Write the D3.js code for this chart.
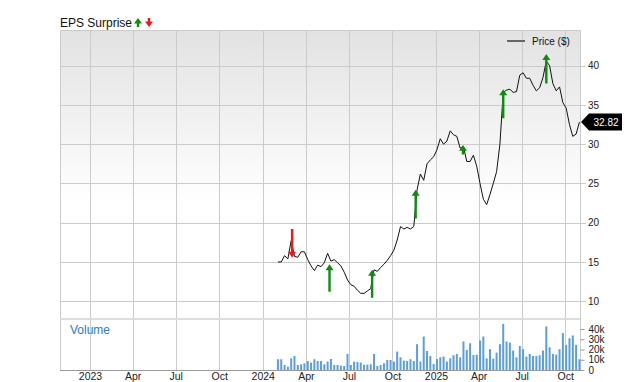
<!DOCTYPE html>
<html>
<head>
<meta charset="utf-8">
<script src="https://cdn.jsdelivr.net/npm/d3@7"></script>
<style>
  body { margin: 0; background: #fff; }
  svg { display: block; font-family: "Liberation Sans", Arial, sans-serif; }
</style>
</head>
<body>
<div id="chart"></div>
<script>
// weekly closes, starting Fri 2 Feb 2024
const firstWeek = "2024-02-02";
const prices = [
  15.0, 15.0, 15.8, 15.4, 17.7, 15.7, 15.6, 16.3, 16.3, 15.3,
  14.5, 13.9, 14.6, 14.4, 14.9, 16.1, 15.1, 15.3, 14.9, 14.5,
  13.7, 12.7, 12.1, 11.9, 11.4, 11.0, 11.0, 11.3, 11.6, 14.0,
  13.8, 14.3, 14.7, 15.2, 15.8, 16.5, 17.8, 19.5, 19.2, 19.4,
  19.2, 19.5, 24.2, 26.2, 25.4, 27.5, 28.0, 28.4, 29.3, 30.7,
  30.0, 30.4, 31.7, 31.2, 31.0, 29.5, 29.7, 27.8, 27.8, 28.6,
  27.2, 25.0, 23.0, 22.3, 23.6, 25.0, 26.5, 30.0, 36.6, 36.9,
  37.0, 36.6, 36.7, 38.8, 39.1, 38.4, 38.4, 37.5, 36.8, 37.2,
  38.5, 40.6, 40.0, 37.7, 36.8, 37.3, 35.3, 34.6, 32.5, 31.0,
  31.3, 32.82
];
const volumes = [
  10500, 10500, 4900, 3300, 11400, 13700, 4900, 5600, 6500, 8800,
  7200, 10500, 8800, 8800, 5600, 8200, 10800, 4900, 4900, 4200,
  3900, 15700, 4900, 8200, 7800, 7200, 5200, 5200, 5600, 15700,
  3900, 4900, 6500, 9800, 9800, 8200, 18000, 12400, 9200, 8800,
  10500, 8800, 25200, 8200, 32700, 18600, 13700, 5900, 10800, 12400,
  13100, 8200, 11400, 14400, 15700, 12400, 27800, 19600, 26100, 14700,
  15000, 28800, 32700, 11400, 20300, 11100, 17000, 25200, 45000, 27800,
  26800, 19000, 12400, 23500, 20300, 13100, 15700, 13700, 13700, 14400,
  19000, 42500, 22200, 15700, 15000, 20300, 36000, 24500, 31000, 33700,
  24500, 10500
];
// EPS surprise arrows: date, direction, price at the arrow tail and at its tip
const epsDates = ["2024-03-03", "2024-05-21", "2024-08-19", "2024-11-19", "2025-02-27", "2025-05-23", "2025-08-22"];
const epsType  = ["down", "up", "up", "up", "up", "up", "up"];
const epsFrom  = [19.2, 11.2, 10.45, 20.55, 28.7, 33.3, 37.75];
const epsTo    = [15.55, 14.7, 14.0, 24.2, 29.9, 37.0, 41.5];

const xTickDates = ["2023-01-01", "2023-04-01", "2023-07-01", "2023-10-01", "2024-01-01", "2024-04-01",
                    "2024-07-01", "2024-10-01", "2025-01-01", "2025-04-01", "2025-07-01", "2025-10-01"];
const xTickLabels = ["2023", "Apr", "Jul", "Oct", "2024", "Apr", "Jul", "Oct", "2025", "Apr", "Jul", "Oct"];
const priceTicks = [10, 15, 20, 25, 30, 35, 40];
const volumeTicks = [0, 10000, 20000, 30000, 40000];
const volumeTickLabels = ["0", "10k", "20k", "30k", "40k"];

const parse = d3.timeParse("%Y-%m-%d");
const start = parse(firstWeek);
const data = prices.map((p, i) => ({ date: d3.timeWeek.offset(start, i), price: p, volume: volumes[i] }));
const eps = epsDates.map((d, i) => ({ date: parse(d), type: epsType[i], from: epsFrom[i], to: epsTo[i] }));

const width = 640, height = 382;
const pLeft = 60, pRight = 580, pTop = 30, priceBottom = 318, volTop = 320, volBottom = 370;

const svg = d3.select("#chart").append("svg")
    .attr("width", width)
    .attr("height", height);

const x = d3.scaleTime()
    .domain([new Date(2022, 9, 29, 14), new Date(2025, 10, 1, 5)])
    .range([pLeft, pRight]);
const y = d3.scaleLinear().domain([7.86, 44.55]).range([priceBottom, pTop]);
const yv = d3.scaleLinear().domain([0, 48800]).range([volBottom, volTop]);

// background gradient of the price pane
const grad = svg.append("defs").append("linearGradient")
    .attr("id", "bg").attr("x1", 0).attr("y1", 0).attr("x2", 0).attr("y2", 1);
grad.append("stop").attr("offset", 0).attr("stop-color", "#e2e2e2");
grad.append("stop").attr("offset", 0.6).attr("stop-color", "#ffffff");

svg.append("rect")
    .attr("x", pLeft).attr("y", pTop)
    .attr("width", pRight - pLeft).attr("height", priceBottom - pTop)
    .attr("fill", "url(#bg)");

// vertical grid
svg.append("g").selectAll("line")
    .data(xTickDates)
    .join("line")
    .attr("x1", d => Math.round(x(parse(d))) + 0.5)
    .attr("x2", d => Math.round(x(parse(d))) + 0.5)
    .attr("y1", pTop).attr("y2", volBottom)
    .attr("stroke", "#cbcbcb");

// horizontal grid of price pane, runs into the right ticks
svg.append("g").selectAll("line")
    .data(priceTicks)
    .join("line")
    .attr("x1", pLeft).attr("x2", pRight + 6)
    .attr("y1", d => Math.round(y(d)) + 0.5)
    .attr("y2", d => Math.round(y(d)) + 0.5)
    .attr("stroke", "#cbcbcb");

// frame
svg.append("path")
    .attr("d", `M${pLeft + 0.5},${volBottom}V${pTop + 0.5}H${pRight + 0.5}V${volBottom}`)
    .attr("fill", "none")
    .attr("stroke", "#cbcbcb");

// pane separator
svg.append("rect")
    .attr("x", pLeft).attr("y", priceBottom)
    .attr("width", pRight - pLeft).attr("height", 2)
    .attr("fill", "#dddddd");

// price axis labels
const yAxis = d3.axisRight(y).tickValues(priceTicks).tickSize(0).tickPadding(8);
svg.append("g")
    .attr("transform", `translate(${pRight},0)`)
    .call(yAxis)
    .call(g => g.select(".domain").remove())
    .call(g => g.selectAll("text").attr("font-size", 10).attr("fill", "#222").attr("font-family", null));

// volume axis
const vAxis = d3.axisRight(yv).tickValues(volumeTicks).tickSize(4).tickPadding(4)
    .tickFormat((d, i) => volumeTickLabels[i]);
svg.append("g")
    .attr("transform", `translate(${pRight + 0.5},0)`)
    .call(vAxis)
    .call(g => g.select(".domain").remove())
    .call(g => g.selectAll("line").attr("stroke", "#999"))
    .call(g => g.selectAll("text").attr("font-size", 10).attr("fill", "#222").attr("font-family", null));

// x axis
const xAxis = d3.axisBottom(x)
    .tickValues(xTickDates.map(parse))
    .tickFormat((d, i) => xTickLabels[i])
    .tickSize(0).tickPadding(3);
svg.append("g")
    .attr("transform", `translate(0,${volBottom})`)
    .call(xAxis)
    .call(g => g.select(".domain").attr("stroke", "#999").attr("d", `M${pLeft},0.5H${pRight + 1}`))
    .call(g => g.selectAll("text").attr("font-size", 10.5).attr("fill", "#222").attr("font-family", null));

// volume bars
svg.append("g").selectAll("rect")
    .data(data)
    .join("rect")
    .attr("x", d => x(d.date) - 1)
    .attr("y", d => yv(d.volume))
    .attr("width", 2)
    .attr("height", d => volBottom - yv(d.volume))
    .attr("fill", "#5b9fdb");

svg.append("text")
    .attr("x", 70).attr("y", 334)
    .attr("font-size", 12)
    .attr("fill", "#2b7dc4")
    .text("Volume");

// price line
svg.append("path")
    .datum(data)
    .attr("fill", "none")
    .attr("stroke", "#111")
    .attr("stroke-width", 1)
    .attr("stroke-linejoin", "round")
    .attr("d", d3.line().x(d => x(d.date)).y(d => y(d.price)));

// EPS arrows
const arrowPath = (cx, y0, y1) => {
  const dir = y1 < y0 ? -1 : 1;            // -1 points up
  const head = Math.min(6, Math.abs(y1 - y0) * 0.6);
  const hb = y1 - dir * head;
  return `M${cx - 1.2},${y0}V${hb}H${cx - 4}L${cx},${y1}L${cx + 4},${hb}H${cx + 1.2}V${y0}Z`;
};
svg.append("g").selectAll("path")
    .data(eps)
    .join("path")
    .attr("d", d => arrowPath(x(d.date), y(d.from), y(d.to)))
    .attr("fill", d => d.type === "up" ? "#118a11" : "#f01818");

// title
svg.append("text")
    .attr("x", 60).attr("y", 27)
    .attr("font-size", 12)
    .attr("fill", "#111")
    .text("EPS Surprise");
svg.append("path").attr("d", arrowPath(138, 27, 18)).attr("fill", "#118a11");
svg.append("path").attr("d", arrowPath(149, 18, 27)).attr("fill", "#f01818");

// legend
svg.append("line")
    .attr("x1", 507).attr("x2", 525)
    .attr("y1", 41).attr("y2", 41)
    .attr("stroke", "#666").attr("stroke-width", 2);
svg.append("text")
    .attr("x", 532).attr("y", 44.5)
    .attr("font-size", 10)
    .attr("fill", "#111")
    .text("Price ($)");

// last price tag
const last = data[data.length - 1];
const ty = y(last.price);
svg.append("path")
    .attr("d", `M${pRight + 1},${ty}L${pRight + 9},${ty - 8.5}H${pRight + 42}V${ty + 8.5}H${pRight + 9}Z`)
    .attr("fill", "#000");
svg.append("text")
    .attr("x", pRight + 26).attr("y", ty + 3.5)
    .attr("text-anchor", "middle")
    .attr("font-size", 10)
    .attr("fill", "#fff")
    .text(d3.format(".2f")(last.price));
</script>
</body>
</html>
